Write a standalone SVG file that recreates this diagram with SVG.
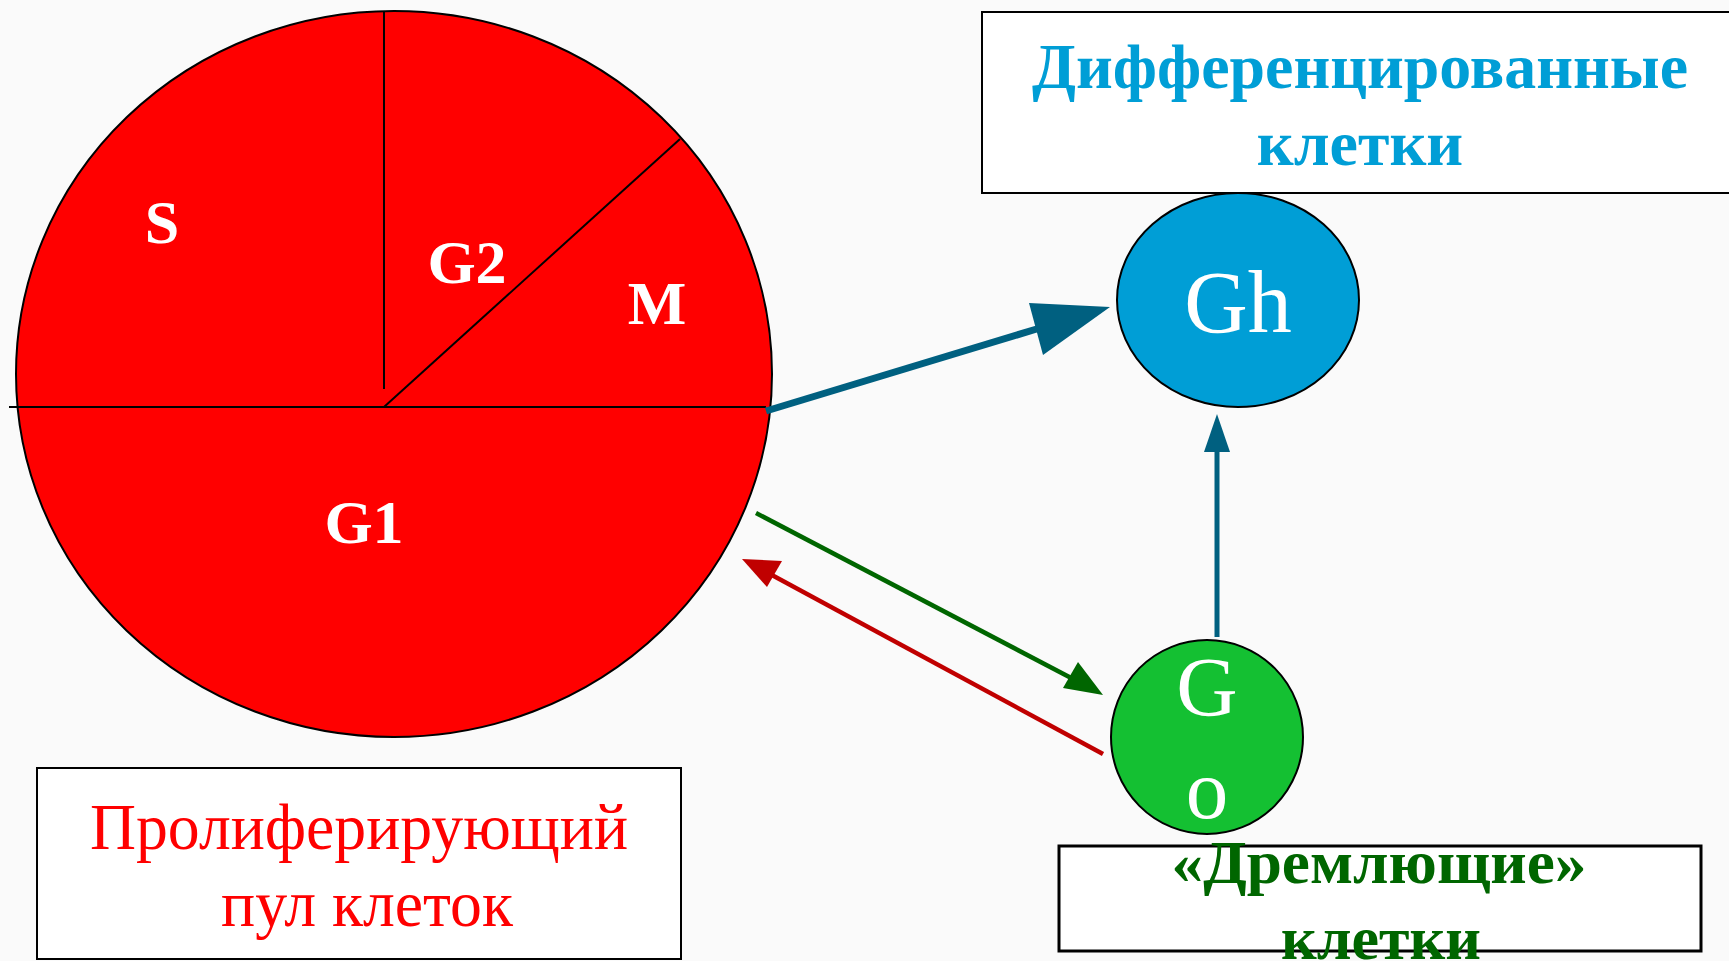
<svg xmlns="http://www.w3.org/2000/svg" width="1729" height="961" viewBox="0 0 1729 961">
<defs>
<style>
.serif{font-family:"Liberation Serif","Times New Roman",serif}
.b{font-weight:bold}
.lbl{fill:#fff;font-weight:bold;font-size:62px;text-anchor:middle}
.box{fill:#fff;stroke:#000;stroke-width:2}
.div{stroke:#000;stroke-width:2;fill:none}
</style>
</defs>
<rect width="1729" height="961" fill="#FAFAFA"/>
<g id="cycle">
<ellipse cx="394" cy="374" rx="378" ry="363" fill="#FF0000" stroke="#000" stroke-width="2"/>
<line class="div" x1="9" y1="407" x2="766" y2="407"/>
<line class="div" x1="384" y1="11" x2="384" y2="389"/>
<line class="div" x1="384" y1="407" x2="680" y2="139"/>
<text class="serif lbl" x="162" y="243">S</text>
<text class="serif lbl" x="467" y="283">G2</text>
<text class="serif lbl" x="657" y="324">M</text>
<text class="serif lbl" x="364" y="543">G1</text>
</g>
<g id="diff-box">
<rect class="box" x="982" y="12" width="760" height="181"/>
<text class="serif b" x="1360" y="88" font-size="64" fill="#009ED6" text-anchor="middle" textLength="656" lengthAdjust="spacingAndGlyphs">Дифференцированные</text>
<text class="serif b" x="1360" y="165" font-size="64" fill="#009ED6" text-anchor="middle">клетки</text>
</g>
<g id="gh">
<ellipse cx="1238" cy="300" rx="121" ry="107" fill="#009ED6" stroke="#000" stroke-width="2"/>
<text class="serif" x="1238" y="332" font-size="88" fill="#fff" text-anchor="middle">Gh</text>
</g>
<g id="go">
<ellipse cx="1207" cy="737" rx="96" ry="97" fill="#14C032" stroke="#000" stroke-width="2"/>
<text class="serif" x="1207" y="716" font-size="85" fill="#fff" text-anchor="middle">G</text>
<text class="serif" x="1207" y="818" font-size="85" fill="#fff" text-anchor="middle">o</text>
</g>
<g id="prolif-box">
<rect class="box" x="37" y="768" width="644" height="191"/>
<text class="serif" x="359" y="849" font-size="65" fill="#FF0000" text-anchor="middle" textLength="538" lengthAdjust="spacingAndGlyphs">Пролиферирующий</text>
<text class="serif" x="367" y="926" font-size="65" fill="#FF0000" text-anchor="middle" textLength="292" lengthAdjust="spacingAndGlyphs">пул клеток</text>
</g>
<g id="dormant-box">
<rect x="1059" y="846" width="642" height="105" fill="#fff" stroke="#000" stroke-width="3"/>
<text class="serif b" x="1379" y="883" font-size="62" fill="#006600" text-anchor="middle" textLength="415" lengthAdjust="spacingAndGlyphs">«Дремлющие»</text>
<text class="serif b" x="1381" y="959" font-size="62" fill="#006600" text-anchor="middle" textLength="200" lengthAdjust="spacingAndGlyphs">клетки</text>
</g>
<g id="connectors">
<line x1="766" y1="411" x2="1040" y2="328" stroke="#006080" stroke-width="7"/>
<polygon points="1110,307 1029,303 1043,355" fill="#006080"/>
<line x1="1217" y1="637" x2="1217" y2="450" stroke="#006080" stroke-width="5"/>
<polygon points="1217,414 1204,452 1230,452" fill="#006080"/>
<line x1="756" y1="513" x2="1075" y2="680" stroke="#006600" stroke-width="4.5"/>
<polygon points="1103,695 1063,688 1078,662" fill="#006600"/>
<line x1="1103" y1="754" x2="770" y2="574" stroke="#C00000" stroke-width="4.5"/>
<polygon points="742,559 782,561 767,587" fill="#C00000"/>
</g>
</svg>
